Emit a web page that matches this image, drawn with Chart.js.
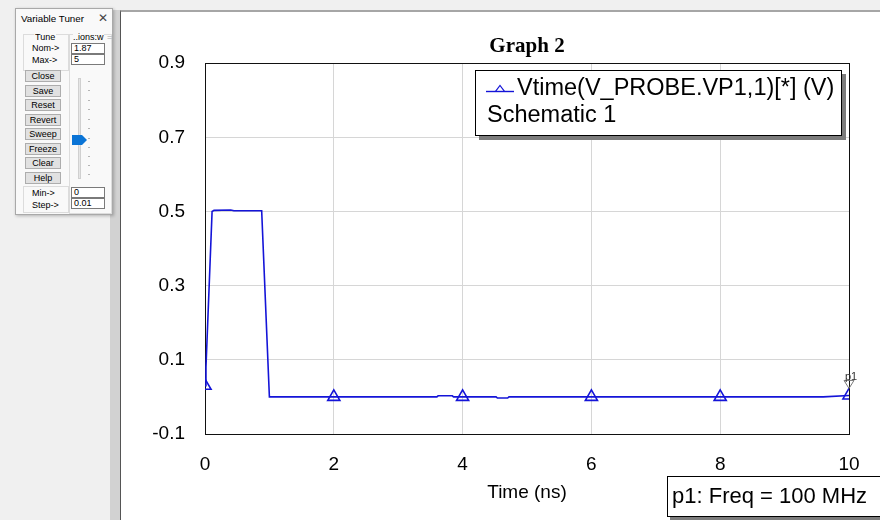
<!DOCTYPE html>
<html>
<head>
<meta charset="utf-8">
<script src="https://cdn.jsdelivr.net/npm/chart.js@4.4.1/dist/chart.umd.min.js"></script>
<style>
  html, body { margin:0; padding:0; }
  body { width:880px; height:520px; background:#f0f0f0; position:relative; overflow:hidden; font-family:"Liberation Sans", Arial, sans-serif; }
  .abs { position:absolute; }
  #strip { left:110px; top:10px; width:10px; bottom:0; background:#d2d2d2; }
  #panel { left:120px; top:10px; right:0; bottom:0; background:#fff; border-left:1px solid #555; border-top:2px solid #a6a6a6; }
  #chart { position:absolute; left:121px; top:12px; }
  #legend { left:475px; top:70px; width:367px; height:66px; box-sizing:border-box; border:1px solid #000; background:#fff; box-shadow:4px 4px 0 #7c7c7c; }
  #legend span { position:absolute; font-size:23.5px; line-height:27px; white-space:nowrap; color:#000; }
  #pbox { left:667px; top:476px; width:230px; height:41px; box-sizing:border-box; border:1px solid #000; background:#fff; box-shadow:3px 3px 0 #7c7c7c; }
  #pbox span { position:absolute; left:4px; top:6px; font-size:22px; line-height:26px; white-space:nowrap; color:#000; }
  /* tuner */
  #tuner { left:15px; top:8px; width:98px; height:207px; box-sizing:border-box; background:#f9f9f9; border:1px solid #a9a9a9; box-shadow:1px 1px 3px rgba(0,0,0,0.25); font-size:9px; color:#000; }
  #tuner .t { position:absolute; white-space:nowrap; line-height:11px; }
  #tuner .btn { position:absolute; left:9px; width:36px; height:12px; box-sizing:border-box; background:#e1e1e1; border:1px solid #adadad; text-align:center; line-height:10px; font-size:9px; }
  #tuner .box { position:absolute; left:55px; width:34px; height:11px; box-sizing:border-box; background:#fff; border:1px solid #7a7a7a; padding-left:2px; line-height:9px; font-size:9px; }
  #tuner .grp { position:absolute; border:1px solid #dcdcdc; box-sizing:border-box; }
  #tuner .tick { position:absolute; left:72px; width:2px; height:1px; background:#b5b5b5; }
</style>
</head>
<body>
<div id="strip" class="abs"></div>
<div id="panel" class="abs"></div>
<canvas id="chart" width="759" height="508"></canvas>

<div id="legend" class="abs">
  <svg style="position:absolute;left:10px;top:12px" width="28" height="14">
    <line x1="0" y1="8.5" x2="28" y2="8.5" stroke="#1414d8" stroke-width="1.4"/>
    <polygon points="9.5,8.5 18.5,8.5 14,2.5" fill="none" stroke="#1414d8" stroke-width="1.2"/>
  </svg>
  <span id="legLine1" style="left:41px;top:3px"></span>
  <span id="legLine2" style="left:11px;top:30px"></span>
</div>

<div id="pbox" class="abs"><span id="pText"></span></div>

<div id="tuner" class="abs">
  <div class="t" style="left:5px;top:4px;font-size:9.8px">Variable Tuner</div>
  <div class="t" style="left:82px;top:3px;font-size:12px;line-height:13px;color:#444">&#x2715;</div>
  <div class="grp" style="left:7px;top:25px;width:46px;height:37px"></div>
  <div class="t" style="left:18px;top:23px;background:#f9f9f9;padding:0 1px">Tune</div>
  <div class="t" style="left:16px;top:34px">Nom-&gt;</div>
  <div class="t" style="left:16px;top:46px">Max-&gt;</div>
  <div class="grp" style="left:53px;top:25px;width:43px;height:180px"></div>
  <div class="t" style="left:57px;top:23px;background:#f9f9f9">..ions:w</div>
  <div class="t" style="left:91px;top:23px;color:#aaa">=</div>
  <div class="box" style="top:34px">1.87</div>
  <div class="box" style="top:45px">5</div>
  <div class="btn" style="top:61px">Close</div>
  <div class="btn" style="top:75.5px">Save</div>
  <div class="btn" style="top:90px">Reset</div>
  <div class="btn" style="top:104.5px">Revert</div>
  <div class="btn" style="top:119px">Sweep</div>
  <div class="btn" style="top:133.5px">Freeze</div>
  <div class="btn" style="top:148px">Clear</div>
  <div class="btn" style="top:162.5px">Help</div>
  <div class="grp" style="left:7px;top:177px;width:46px;height:27px"></div>
  <div class="t" style="left:16px;top:179px">Min-&gt;</div>
  <div class="t" style="left:16px;top:191px">Step-&gt;</div>
  <div class="box" style="top:178px">0</div>
  <div class="box" style="top:189px">0.01</div>
  <div style="position:absolute;left:62px;top:69px;width:3px;height:101px;background:#e6e6e6;border:1px solid #d0d0d0;box-sizing:border-box"></div>
  <div class="tick" style="top:72px"></div><div class="tick" style="top:81px"></div>
  <div class="tick" style="top:91px"></div><div class="tick" style="top:100px"></div>
  <div class="tick" style="top:110px"></div><div class="tick" style="top:119px"></div>
  <div class="tick" style="top:129px"></div><div class="tick" style="top:138px"></div>
  <div class="tick" style="top:147px"></div><div class="tick" style="top:156px"></div>
  <div class="tick" style="top:165px"></div>
  <svg style="position:absolute;left:56px;top:126px" width="16" height="10">
    <polygon points="0,0 10,0 15,5 10,10 0,10" fill="#0a74d6"/>
  </svg>
</div>

<script>
// ---- data ----
const chartTitle = 'Graph 2';
const seriesLabel = 'Vtime(V_PROBE.VP1,1)[*] (V)';
const seriesSource = 'Schematic 1';
const markerNote = 'p1: Freq = 100 MHz';
const markerName = 'p1';
const xAxisTitle = 'Time (ns)';

const timeNs = [0, 0.015, 0.11, 0.14, 0.4, 0.45, 0.88, 1.0, 3.6, 3.62, 3.84, 3.86, 4.52, 4.54, 4.7, 4.72, 9.6, 10];
const vtime  = [0.03, 0.08, 0.5, 0.503, 0.504, 0.502, 0.502, 0.0, 0.0, 0.003, 0.003, 0.0, 0.0, -0.003, -0.003, 0.0, 0.0, 0.004];

const markerTime = [0, 2, 4, 6, 8, 10];
const markerV    = [0.03, 0.0, 0.0, 0.0, 0.0, 0.004];

const xTicks = [0, 2, 4, 6, 8, 10];
const yTicks = [-0.1, 0.1, 0.3, 0.5, 0.7, 0.9];

// ---- text into overlays ----
document.getElementById('legLine1').textContent = seriesLabel;
document.getElementById('legLine2').textContent = seriesSource;
document.getElementById('pText').textContent = markerNote;

const blue = '#1414d8';

const frame = {
  id: 'frame',
  beforeDatasetsDraw(chart) {
    const {ctx, chartArea: a} = chart;
    ctx.save();
    ctx.strokeStyle = '#111';
    ctx.lineWidth = 1;
    ctx.strokeRect(Math.round(a.left) + 0.5, Math.round(a.top) + 0.5, Math.round(a.right - a.left), Math.round(a.bottom - a.top));
    ctx.restore();
  }
};

const pLabel = {
  id: 'pLabel',
  afterDatasetsDraw(chart) {
    const {ctx, scales} = chart;
    const i = markerTime.length - 1;
    const x = scales.x.getPixelForValue(markerTime[i]);
    const y = scales.y.getPixelForValue(markerV[i]);
    ctx.save();
    ctx.strokeStyle = '#777';
    ctx.lineWidth = 1;
    ctx.beginPath();
    ctx.moveTo(x - 5, y - 15);
    ctx.lineTo(x + 5, y - 15);
    ctx.lineTo(x, y - 7);
    ctx.closePath();
    ctx.stroke();
    ctx.fillStyle = '#333';
    ctx.font = '11px "Liberation Sans", Arial';
    ctx.textAlign = 'center';
    ctx.textBaseline = 'alphabetic';
    ctx.fillText(markerName, x + 2, y - 15);
    ctx.restore();
  }
};

new Chart(document.getElementById('chart'), {
  type: 'scatter',
  data: {
    datasets: [
      {
        label: seriesLabel,
        data: timeNs.map((t, i) => ({x: t, y: vtime[i]})),
        showLine: true,
        borderColor: blue,
        borderWidth: 1.6,
        pointRadius: 0,
        tension: 0,
        clip: 0
      },
      {
        label: seriesLabel + ' markers',
        data: markerTime.map((t, i) => ({x: t, y: markerV[i]})),
        showLine: false,
        pointStyle: 'triangle',
        pointRadius: 7,
        pointBorderWidth: 1.6,
        borderColor: blue,
        backgroundColor: 'rgba(0,0,0,0)',
        clip: 0
      }
    ]
  },
  options: {
    responsive: false,
    animation: false,
    events: [],
    layout: { padding: { top: 0, right: 31, bottom: 0, left: 0 } },
    plugins: {
      legend: { display: false },
      tooltip: { enabled: false },
      title: {
        display: true,
        text: chartTitle,
        fullSize: false,
        color: '#000',
        font: { family: '"Liberation Serif", "Times New Roman", serif', size: 21, weight: 'bold', lineHeight: 1.2 },
        padding: { top: 22, bottom: 4 }
      }
    },
    scales: {
      x: {
        type: 'linear',
        min: 0, max: 10,
        afterBuildTicks: s => { s.ticks = xTicks.map(v => ({value: v})); },
        afterFit: s => { s.height = 86; },
        grid: { color: '#d6d6d6', lineWidth: 1, drawTicks: false },
        border: { display: false },
        ticks: { color: '#000', padding: 19, maxRotation: 0, font: { family: '"Liberation Sans", Arial', size: 19, lineHeight: 1.2 }, callback: v => String(v) },
        title: { display: true, text: xAxisTitle, color: '#000', font: { family: '"Liberation Sans", Arial', size: 19, lineHeight: 1.2 }, padding: { top: 0, bottom: 16 } }
      },
      y: {
        type: 'linear',
        min: -0.1, max: 0.9,
        afterBuildTicks: s => { s.ticks = yTicks.map(v => ({value: v})); },
        afterFit: s => { s.width = 84; },
        grid: { color: '#d6d6d6', lineWidth: 1, drawTicks: false },
        border: { display: false },
        ticks: { color: '#000', padding: 20, font: { family: '"Liberation Sans", Arial', size: 19, lineHeight: 1.2 }, callback: v => Number(v).toFixed(1) }
      }
    }
  },
  plugins: [frame, pLabel]
});
</script>
</body>
</html>
